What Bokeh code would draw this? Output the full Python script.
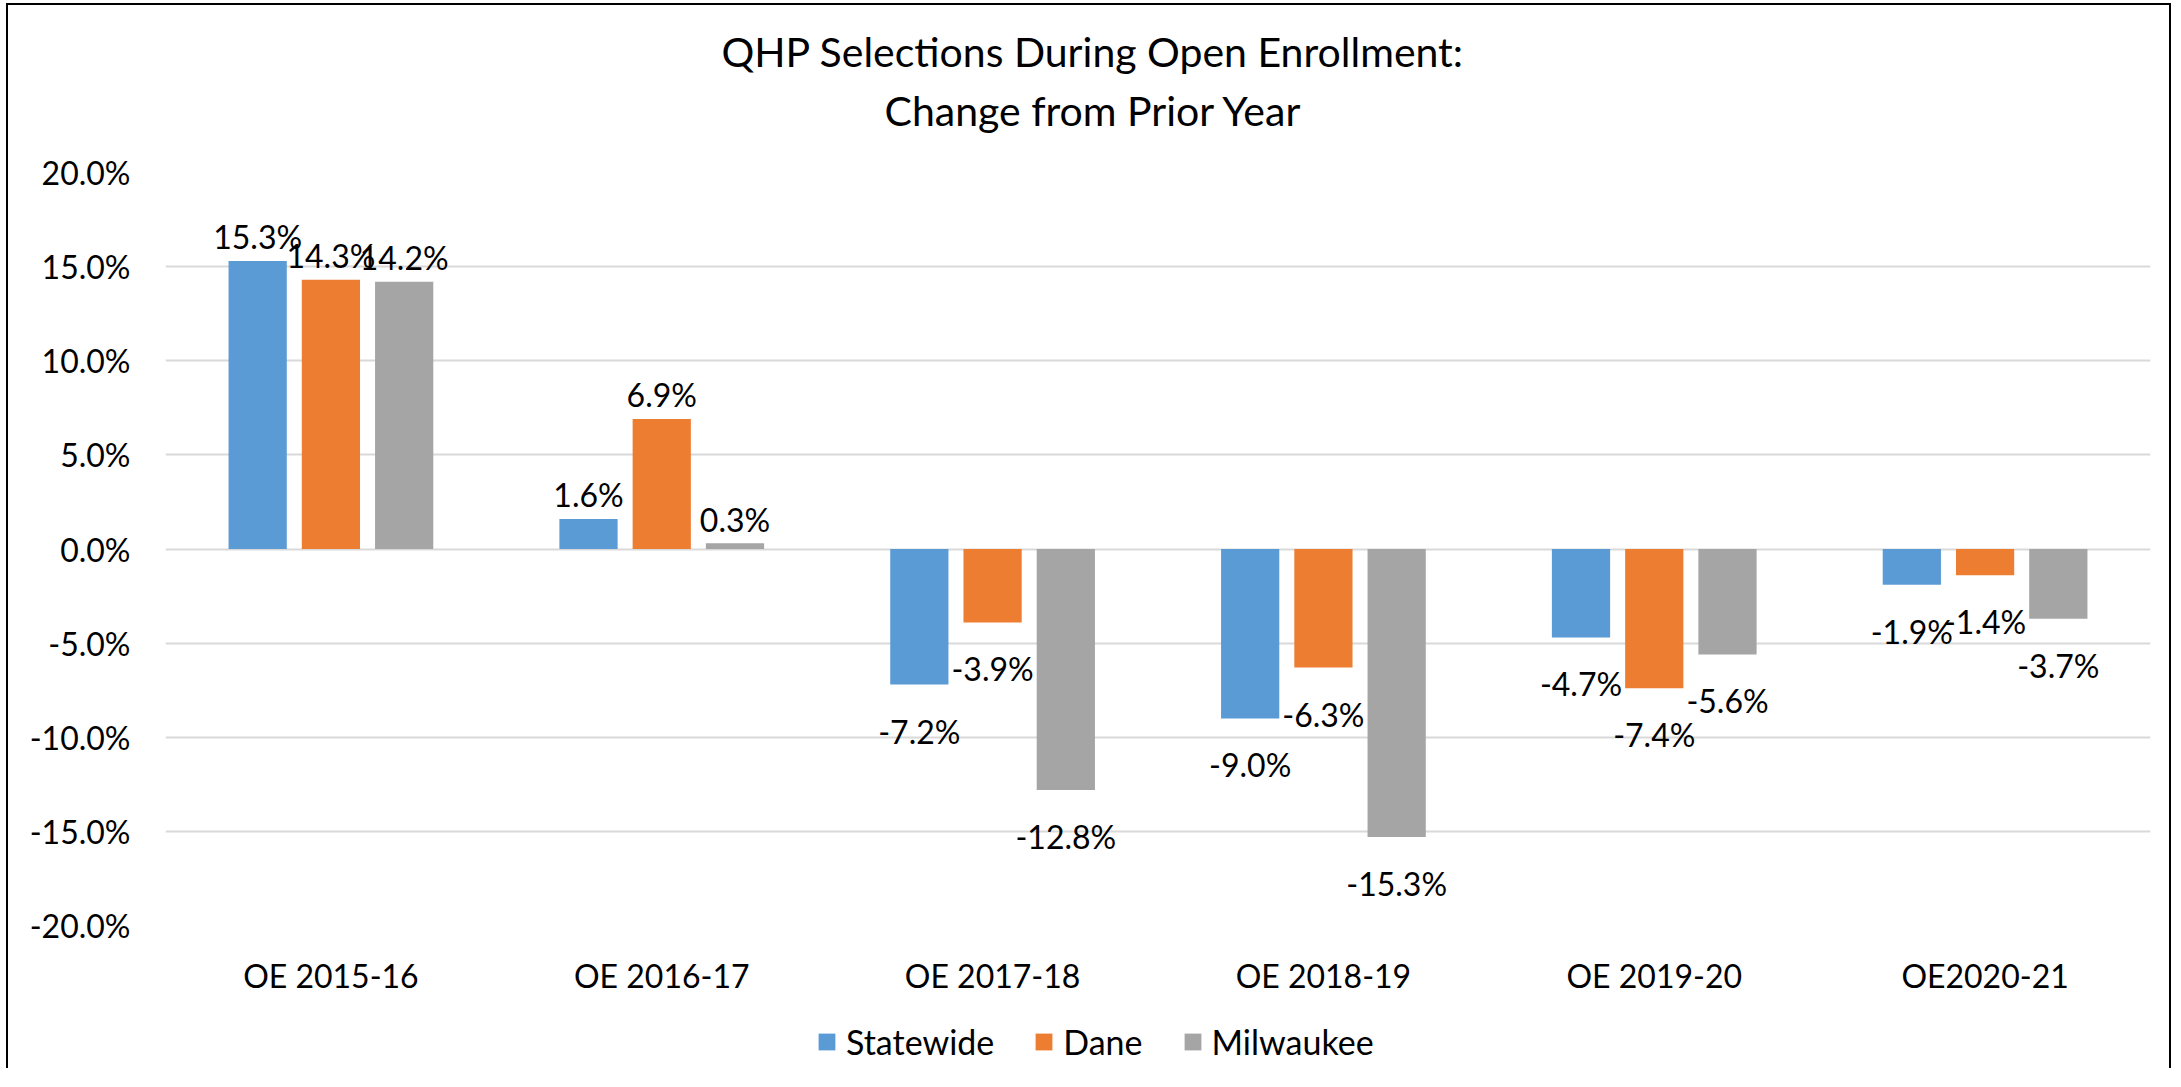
from bokeh.plotting import figure
from bokeh.layouts import column
from bokeh.models import (ColumnDataSource, FactorRange, Range1d, FixedTicker, Legend,
                          LegendItem, Title)
from bokeh.transform import dodge
from bokeh.embed import file_html
from bokeh.resources import INLINE
from bokeh.core.properties import value

categories = ["OE 2015-16", "OE 2016-17", "OE 2017-18", "OE 2018-19", "OE 2019-20", "OE2020-21"]
series_names = ["Statewide", "Dane", "Milwaukee"]
statewide = [15.3, 1.6, -7.2, -9.0, -4.7, -1.9]
dane = [14.3, 6.9, -3.9, -6.3, -7.4, -1.4]
milwaukee = [14.2, 0.3, -12.8, -15.3, -5.6, -3.7]
y_ticks = [-20, -15, -10, -5, 0, 5, 10, 15, 20]
y_tick_labels = ["-20.0%", "-15.0%", "-10.0%", "-5.0%", "0.0%", "5.0%", "10.0%", "15.0%", "20.0%"]
title_line1 = "QHP Selections During Open Enrollment:"
title_line2 = "Change from Prior Year"
colors = ["#5B9BD5", "#ED7D31", "#A5A5A5"]

FONT = "Lato"
W = 2161
PX_PER_PCT = (927 - 174) / 40.0

# ---- title strip ----
pt = figure(width=W, height=140, x_axis_location=None, y_axis_location=None,
            output_backend="svg", toolbar_location=None,
            min_border_left=0, min_border_right=0, min_border_top=131, min_border_bottom=0)
pt.grid.visible = False
pt.outline_line_color = None
pt.add_layout(Title(text=title_line2, align="left", offset=719, standoff=3,
                    text_font=FONT, text_font_size="41px", text_font_style="normal",
                    text_color="black"), "above")
pt.add_layout(Title(text=title_line1, align="left", offset=556, standoff=13,
                    text_font=FONT, text_font_size="41px", text_font_style="normal",
                    text_color="black"), "above")

# ---- main chart ----
p = figure(x_range=FactorRange(factors=categories, range_padding=0),
           y_range=Range1d(-20, 20),
           width=W, height=853,
           output_backend="svg", toolbar_location=None,
           min_border_left=157, min_border_right=19,
           min_border_top=27, min_border_bottom=73)

# ---- legend strip ----
pl = figure(width=W, height=70, x_axis_location=None, y_axis_location=None,
            x_range=FactorRange(factors=categories, range_padding=0), y_range=Range1d(100, 101),
            output_backend="svg", toolbar_location=None,
            min_border_left=0, min_border_right=0, min_border_top=0, min_border_bottom=0)
pl.grid.visible = False
pl.outline_line_color = None

offsets = [-0.2214, 0.0, 0.2214]
items = []
for name, vals, col, off in zip(series_names, [statewide, dane, milwaukee], colors, offsets):
    src = ColumnDataSource(dict(
        cat=categories,
        val=vals,
        lab=[f"{v:.1f}%" for v in vals],
        ly=[v + 24.2 / PX_PER_PCT if v >= 0 else v - 46.5 / PX_PER_PCT for v in vals],
    ))
    p.vbar(x=dodge("cat", off, range=p.x_range), top="val", bottom=0, width=0.176,
           fill_color=col, line_color=None, source=src)
    p.text(x=dodge("cat", off, range=p.x_range), y="ly", text="lab", source=src,
           text_align="center", text_baseline="alphabetic",
           text_font=value(FONT), text_font_size="32px", text_color="black")
    # legend key renderer (same data; lies outside the legend strip's visible range)
    rl = pl.vbar(x=dodge("cat", off, range=pl.x_range), top="val", bottom=0, width=0.176,
                 fill_color=col, line_color=None, source=src)
    items.append(LegendItem(label=name, renderers=[rl]))

p.yaxis.ticker = FixedTicker(ticks=y_ticks)
p.yaxis.major_label_overrides = {t: l for t, l in zip(y_ticks, y_tick_labels)}
p.yaxis.major_label_standoff = 29
p.xaxis.major_label_standoff = 24
for ax in (p.xaxis, p.yaxis):
    ax.axis_line_color = None
    ax.major_tick_line_color = None
    ax.minor_tick_line_color = None
    ax.major_label_text_font = FONT
    ax.major_label_text_font_size = "32px"
    ax.major_label_text_color = "black"
p.xgrid.grid_line_color = None
p.ygrid.grid_line_color = "#D9D9D9"
p.ygrid.grid_line_width = 2
p.outline_line_color = None

legend = Legend(items=items, location=(651, 6), orientation="horizontal",
                glyph_width=21, glyph_height=21, label_standoff=9, spacing=39,
                padding=0, margin=0, border_line_color=None, background_fill_alpha=0,
                label_text_font=FONT, label_text_font_size="34px", label_text_color="black")
pl.add_layout(legend, "center")

layout = column(pt, p, pl, spacing=0)
layout.styles = {"border-left": "2px solid black", "border-top": "2px solid black",
                 "border-right": "2px solid black", "position": "relative",
                 "left": "6px", "top": "3px"}

open("out.html", "w").write(file_html(layout, INLINE))
